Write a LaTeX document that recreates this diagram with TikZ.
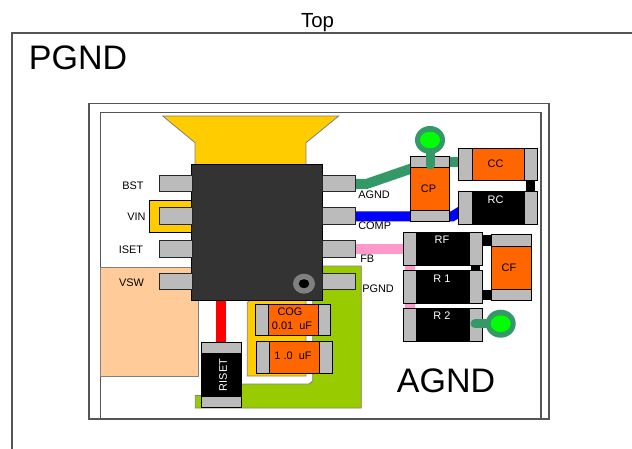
\documentclass[tikz,border=0pt]{standalone}
\usepackage{fontspec}
\setmainfont{Liberation Sans}
\usetikzlibrary{shapes.geometric,backgrounds}
\definecolor{icgray}{HTML}{333333}
\definecolor{padgray}{HTML}{BBBBBB}
\definecolor{capor}{HTML}{FF6600}
\definecolor{tracegreen}{HTML}{339966}
\definecolor{lime}{HTML}{00FF00}
\definecolor{plane}{HTML}{99CC00}
\definecolor{goldy}{HTML}{FFCC00}
\definecolor{peach}{HTML}{FFCC99}
\definecolor{pinktr}{HTML}{FF99CC}
\definecolor{framegray}{HTML}{555555}
\newcommand{\bx}[7]{\node[#2, minimum width={(#5-#3)*0.75pt}, minimum height={(#6-#4)*0.75pt}] (#1) at ({(#3+#5)/2},{(#4+#6)/2}) {#7};}
\tikzset{
  x=0.75pt,y=-0.75pt,
  part/.style={draw=black,line width=0.75pt,inner sep=0pt,outer sep=0pt,rectangle},
  pad/.style={part,fill=padgray},
  capbody/.style={part,fill=capor},
  resbody/.style={part,fill=black},
  pinbox/.style={part,fill=padgray,draw=black!85},
  chip/.style={part,fill=icgray},
  lab/.style={inner sep=0pt,font=\fontsize{8.2}{10}\selectfont},
  wlab/.style={lab,text=white},
  big/.style={inner sep=0pt,font=\fontsize{25.5}{30}\selectfont},
  ring/.style={ellipse,fill=tracegreen,inner sep=0pt,outer sep=0pt,minimum width=22.5pt,minimum height=21pt},
  core/.style={ellipse,fill=lime,inner sep=0pt,minimum width=15pt,minimum height=12.5pt},
  trace/.style={line width=7.5pt},
  area/.style={draw=gray,line width=0.6pt},
  frameline/.style={draw=framegray,line width=0.8pt},
}
\begin{document}
\begin{tikzpicture}
\useasboundingbox (0,0) rectangle (632,449);
% IC and pins
\bx{ic}{chip}{191.7}{164.7}{322.3}{300.3}{}
\bx{pinBST}{pinbox}{159}{175.7}{192}{192}{}
\bx{pinVIN}{pinbox}{159}{208}{192}{224.5}{}
\bx{pinISET}{pinbox}{159}{240.5}{192}{257}{}
\bx{pinVSW}{pinbox}{159}{273.3}{192}{289.5}{}
\bx{pinAGND}{pinbox}{322}{175.7}{355}{192}{}
\bx{pinCOMP}{pinbox}{322}{208}{355}{224.5}{}
\bx{pinFB}{pinbox}{322}{240.5}{355}{257}{}
\bx{pinPGND}{pinbox}{322}{273.3}{355}{289.5}{}
\node[ellipse,fill=gray,minimum width=16.5pt,minimum height=15pt,inner sep=0pt] (dotout) at (304,283.7) {};
\node[ellipse,fill=black,minimum width=8pt,minimum height=6.8pt,inner sep=0pt] (dotin) at (304,283.7) {};
% COG cap
\bx{cogbody}{capbody}{255.3}{304}{330.7}{335.7}{}
\bx{cogl}{pad}{255.3}{304}{268}{335.7}{}
\bx{cogr}{pad}{318}{304}{330.7}{335.7}{}
\node[lab] (cogtxt) at (290,312) {COG};
\node[lab] (cogval) at (292,326) {0.01\ \ uF};
% 1.0 uF cap
\bx{onebody}{capbody}{256.7}{341.7}{332}{373.3}{}
\bx{onel}{pad}{256.7}{341.7}{269.3}{373.3}{}
\bx{oner}{pad}{319.3}{341.7}{332}{373.3}{}
\node[lab] (oneval) at (293,356) {1 .0\ \ uF};
% RISET
\bx{risetbody}{resbody}{201.3}{342.3}{241}{407.3}{}
\bx{risett}{pad}{201.3}{342.3}{241}{353}{}
\bx{risetb}{pad}{201.3}{396.7}{241}{407.3}{}
\node[wlab,rotate=90] (risettxt) at (223,375) {RISET};
% CP
\bx{cpbody}{capbody}{410}{156.7}{449.3}{222}{}
\bx{cpt}{pad}{410}{156.7}{449.3}{167.7}{}
\bx{cpb}{pad}{410}{211}{449.3}{222}{}
\node[lab] (cptxt) at (428.5,189) {CP};
% CC
\bx{ccbody}{capbody}{458.7}{148.3}{537.3}{181}{}
\bx{ccl}{pad}{458.7}{148.3}{472.3}{181}{}
\bx{ccr}{pad}{524.3}{148.3}{537.3}{181}{}
\node[lab] (cctxt) at (495.5,164) {CC};
% RC
\bx{rcbody}{resbody}{458.7}{191.7}{537.3}{225}{}
\bx{rcl}{pad}{458.7}{191.7}{472.3}{225}{}
\bx{rcr}{pad}{524.3}{191.7}{537.3}{225}{}
\node[wlab] (rctxt) at (495.5,200) {RC};
% RF
\bx{rfbody}{resbody}{403.3}{232.3}{482}{265}{}
\bx{rfl}{pad}{403.3}{232.3}{416.3}{265}{}
\bx{rfr}{pad}{469}{232.3}{482}{265}{}
\node[wlab] (rftxt) at (442,240) {RF};
% R1
\bx{ronebody}{resbody}{403.3}{270.3}{482}{303.3}{}
\bx{ronel}{pad}{403.3}{270.3}{416.3}{303.3}{}
\bx{roner}{pad}{469}{270.3}{482}{303.3}{}
\node[wlab] (ronetxt) at (442,279) {R 1};
% R2
\bx{rtwobody}{resbody}{403.3}{308.3}{482}{341}{}
\bx{rtwol}{pad}{403.3}{308.3}{416.3}{341}{}
\bx{rtwor}{pad}{469}{308.3}{482}{341}{}
\node[wlab] (rtwotxt) at (442,316) {R 2};
% CF
\bx{cfbody}{capbody}{491.7}{235}{531}{300.3}{}
\bx{cft}{pad}{491.7}{235}{531}{246}{}
\bx{cfb}{pad}{491.7}{289.3}{531}{300.3}{}
\node[lab] (cftxt) at (509,268) {CF};
% ground pads
\coordinate (stemcp) at (430,165);
\coordinate (stemrtwo) at (475,323.7);
\node[ring] (viacp) at (430,140) {};
\draw[tracegreen,line width=6.75pt,line cap=round] (viacp.center) -- (stemcp);
\node[core] (viacpc) at (430,140) {};
\node[ring] (viar) at (500.7,323.7) {};
\draw[tracegreen,line width=6.75pt,line cap=round] (viar.center) -- (stemrtwo);
\node[core] (viarc) at (500.7,323.7) {};
% pin labels
\node[lab] (lBST) at (133,186) {BST};
\node[lab] (lVIN) at (136.5,217) {VIN};
\node[lab] (lISET) at (131,250) {ISET};
\node[lab] (lVSW) at (131.5,283) {VSW};
\node[lab,anchor=west] (lAGND) at (358,195) {AGND};
\node[lab,anchor=west] (lCOMP) at (358,226) {COMP};
\node[lab,anchor=west] (lFB) at (360,259) {FB};
\node[lab,anchor=west] (lPGND) at (362,289) {PGND};
% big labels
\node[inner sep=0pt,font=\fontsize{15.3}{18}\selectfont] (top) at (317.5,22.5) {Top};
\node[big] (pgnd) at (78,58) {PGND};
\node[big] (agnd) at (446,381) {AGND};
\begin{pgfonlayer}{background}
\fill[white] (0,0) rectangle (632,449);
% frames
\draw[frameline] (632,33) -- (12,33) -- (12,449);
\draw[frameline,fill=white] (89,103.5) rectangle (549,419);
\draw[frameline,fill=white] (100.5,112.5) rectangle (541,419);
% planes
\path[area,fill=peach] (100.5,267.7) rectangle (198.3,376);
\path[area,fill=plane] (322,266) -- (361.3,266) -- (361.3,408) -- (195.3,408) -- (195.3,395.5) -- (201,395.5) -- (241,395.5) -- (241,384) -- (309,384) -- (312.7,381) -- (312.7,300) -- (322,300) -- cycle;
\path[area,fill=goldy] (249.5,300) -- (306,300) -- (306,376) -- (247.3,376) -- (247.3,303) -- cycle;
\path[area,draw=black,fill=goldy] (192,200) -- (149.3,200) -- (149.3,232.3) -- (192,232.3);
\path[area,fill=goldy] (162.7,116) -- (338.7,116) -- (306,142.7) -- (306,165) -- (195,165) -- (195,142.7) -- cycle;
% traces
\draw[trace,tracegreen] (pinAGND.center) -- (367,183.8) -- (cpt.center);
\draw[trace,tracegreen] (cpt.center) -- (ccl.center |- cpt.center);
\draw[trace,blue] (pinCOMP.center) -- (cpb.center);
\draw[trace,blue] (cpb.center) -- (452,216.5) -- (rcl.center);
\draw[trace,pinktr] (pinFB.center) -- (rfl.center |- pinFB.center);
\draw[trace,red] (ic.center -| 221,0) -- (risett.center -| 221,0);
\draw[trace,pinktr] (410,265) -- (410,308.3);
\draw[trace,black,line width=7pt] (530.5,181) -- (530.5,191.7);
\draw[trace,black,line width=7pt] (475.3,265) -- (475.3,270.3);
\draw[trace,black] (rfr.center |- cft.center) -- (cft.center);
\draw[trace,black] (roner.center |- cfb.center) -- (cfb.center);
\end{pgfonlayer}
\end{tikzpicture}
\end{document}
